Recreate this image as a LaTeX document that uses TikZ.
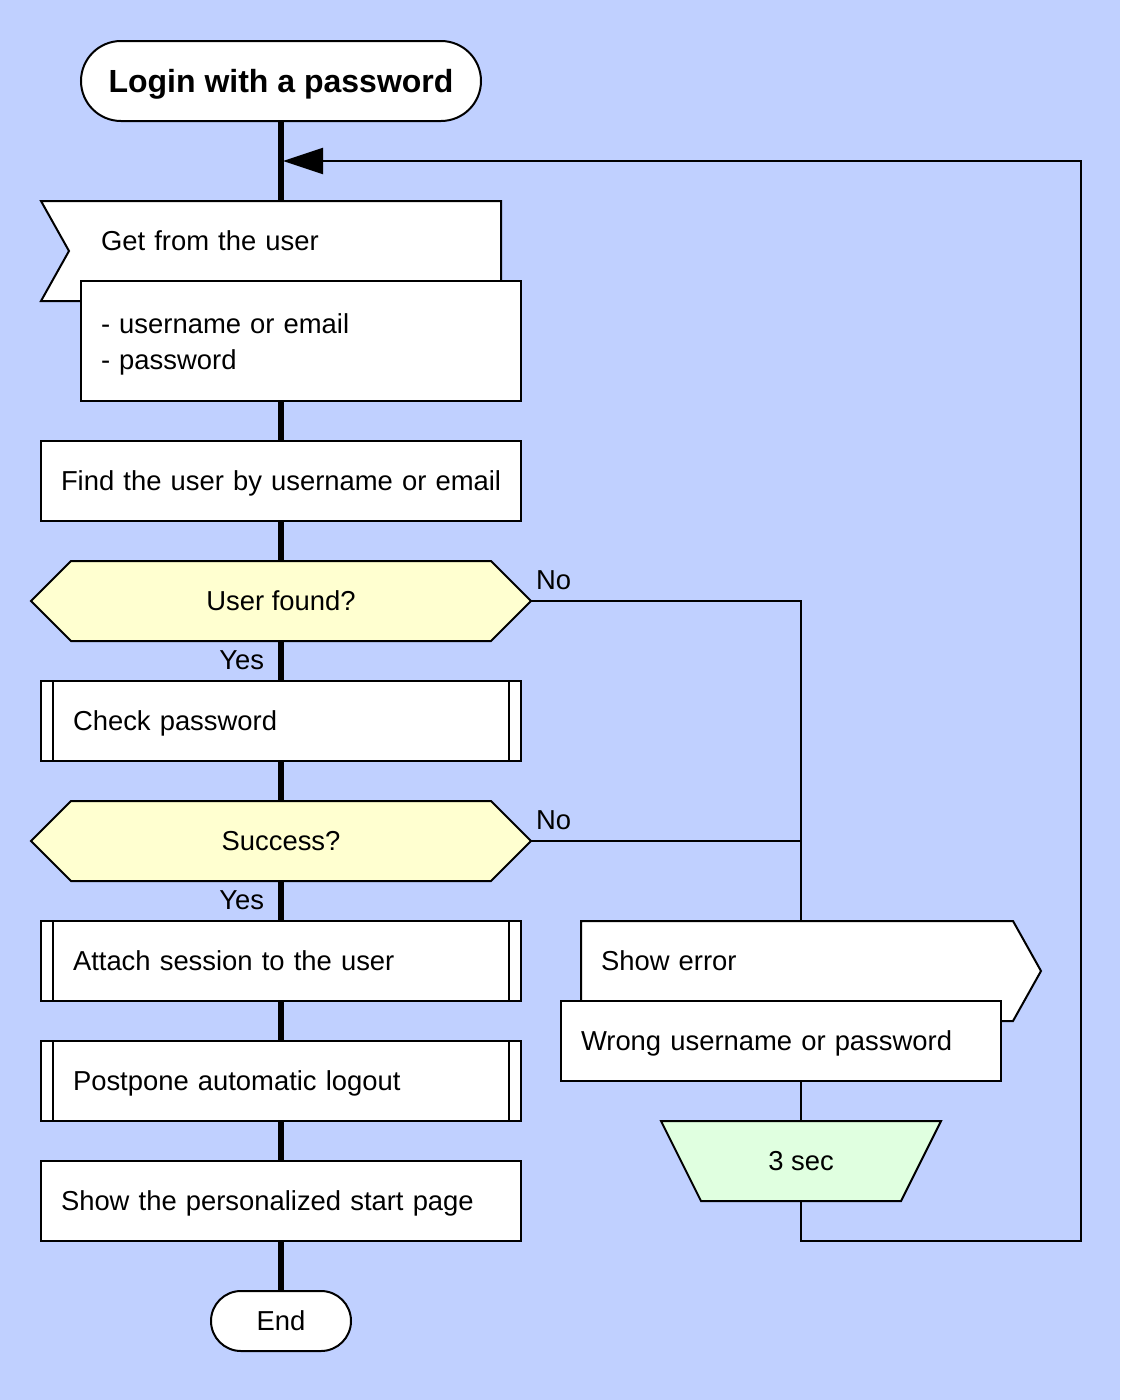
\documentclass[tikz,border=0pt]{standalone}
\usepackage{fontspec}
\setmainfont{Liberation Sans}
\usetikzlibrary{arrows.meta}
\pgfdeclarelayer{canvas}
\pgfdeclarelayer{links}
\pgfdeclarelayer{shapes}
\pgfsetlayers{canvas,links,shapes,main}

\definecolor{pagebg}{RGB}{192,208,255}
\definecolor{qfill}{RGB}{255,255,208}
\definecolor{tfill}{RGB}{224,255,224}

\begin{document}
\begin{tikzpicture}[x=1pt,y=-1pt,
  every node/.style={font=\fontsize{27.4}{36}\selectfont, inner sep=0pt, outer sep=0pt},
  oneline/.style={text height=24.6pt, text depth=5pt},
  frame/.style={draw=black, line width=2pt, fill=white},
  actbox/.style={frame, oneline, minimum width=480pt, minimum height=80pt, text width=440pt, inner xsep=20pt, align=left},
  subbox/.style={frame, oneline, minimum width=480pt, minimum height=80pt, text width=416pt, inner xsep=32pt, align=left},
  sidebox/.style={oneline, minimum width=440pt, minimum height=80pt, text width=400pt, inner xsep=20pt, align=left},
  slot/.style={oneline, minimum width=500pt, minimum height=80pt},
  skel/.style={line width=6pt},
  wire/.style={line width=2pt},
  outline/.style={draw=black, line width=2pt}
]
\useasboundingbox (0,0) rectangle (1120,1400);
\begin{pgfonlayer}{canvas}
  \fill[pagebg] (0,0) rectangle (1120,1400);
\end{pgfonlayer}

% main column
\node[frame, rounded corners=40pt, minimum width=400pt, minimum height=80pt,
      text height=27.9pt, text depth=5pt,
      font=\fontsize{32}{38}\selectfont\bfseries] (title) at (281,81) {Login with a password};
\node[oneline, text width=400pt, align=left, minimum height=80pt] (getfrom) at (301,241) {Get from the user};
\node[frame, minimum width=440pt, minimum height=120pt] (fields) at (301,341) {};
\node[text width=400pt, align=left] (fieldtext) at (301,344) {- username or email\\- password};
\node[actbox] (find) at (281,481) {\mbox{Find the user by username or email}};
\node[slot] (uf) at (281,601) {User found?};
\node[subbox] (chk) at (281,721) {Check password};
\node[slot] (succ) at (281,841) {Success?};
\node[subbox] (attach) at (281,961) {Attach session to the user};
\node[subbox] (postp) at (281,1081) {Postpone automatic logout};
\node[actbox] (start) at (281,1201) {\mbox{Show the personalized start page}};
\node[frame, oneline, rounded corners=30pt, minimum width=140pt, minimum height=60pt] (fin) at (281,1321) {End};

% error branch
\node[sidebox] (showerr) at (801,961) {Show error};
\node[sidebox, frame] (wrong) at (781,1041) {\mbox{Wrong username or password}};
\node[oneline, minimum width=280pt, minimum height=80pt] (wait) at (801,1161) {3 sec};

% branch labels
\node[anchor=base west] (no1) at ([xshift=5pt,yshift=12pt]uf.east) {No};
\node[anchor=base east] (yes1) at ([xshift=-17pt,yshift=-28pt]uf.south) {Yes};
\node[anchor=base west] (no2) at ([xshift=5pt,yshift=12pt]succ.east) {No};
\node[anchor=base east] (yes2) at ([xshift=-17pt,yshift=-28pt]succ.south) {Yes};

% subroutine side bars
\foreach \n in {chk,attach,postp}{
  \draw[wire] ([xshift=12pt]\n.north west) -- ([xshift=12pt]\n.south west);
  \draw[wire] ([xshift=-12pt]\n.north east) -- ([xshift=-12pt]\n.south east);
}

% outlines of the non-rectangular blocks
\begin{pgfonlayer}{shapes}
  \path[outline, fill=white] (41,201) -- (getfrom.north east) -- (501,301) -- (41,301) -- (69,251) -- cycle;
  \foreach \q in {uf,succ}{
    \path[outline, fill=qfill] (\q.west) -- ([xshift=40pt]\q.north west) -- ([xshift=-40pt]\q.north east)
      -- (\q.east) -- ([xshift=-40pt]\q.south east) -- ([xshift=40pt]\q.south west) -- cycle;
  }
  \path[outline, fill=white] (showerr.north west) -- (1013,921) -- (1041,971) -- (1013,1021) -- (581,1021) -- cycle;
  \path[outline, fill=tfill] (wait.north west) -- (wait.north east) -- ([xshift=-40pt]wait.south east)
    -- ([xshift=40pt]wait.south west) -- cycle;
\end{pgfonlayer}

% connectors
\coordinate (loopBR) at (1081,1241);
\coordinate (loopTR) at (1081,161);
\coordinate (entry) at (283,161);
\begin{pgfonlayer}{links}
  \draw[skel] (title) -- (fin);
  \draw[wire] (uf.east) -| (wait.north);
  \draw[wire] (succ.east) -- (succ.east -| wait.north);
  \draw[wire, -{Triangle[length=40pt,width=26pt]}] (wait.south) |- (loopBR) -- (loopTR) -- (entry);
\end{pgfonlayer}
\end{tikzpicture}
\end{document}
